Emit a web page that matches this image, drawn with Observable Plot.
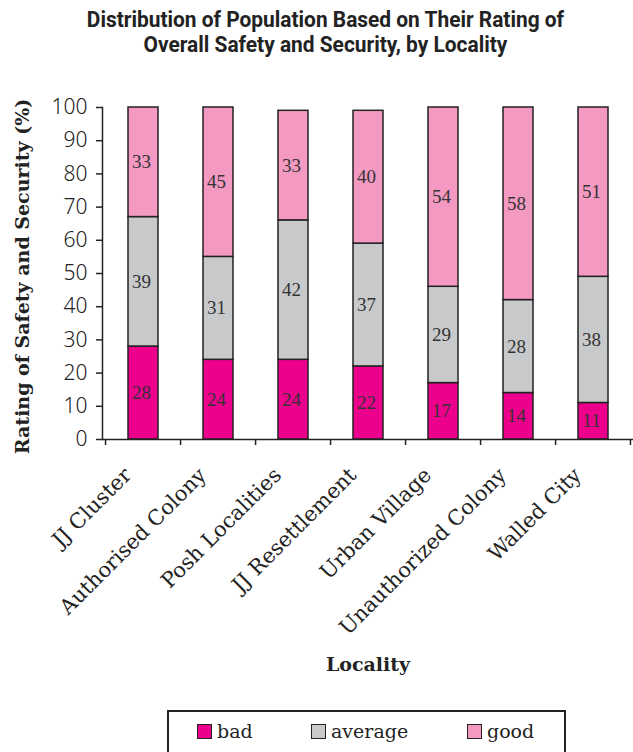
<!DOCTYPE html>
<html><head><meta charset="utf-8">
<script src="https://cdn.jsdelivr.net/npm/d3@7"></script>
<script src="https://cdn.jsdelivr.net/npm/@observablehq/plot@0.6"></script>
<style>
body{margin:0;background:#fff;width:633px;height:752px;overflow:hidden;position:relative;}
#title{position:absolute;left:9px;top:0;width:633px;height:70px;font-family:Roboto,sans-serif;font-weight:700;font-size:22px;color:#222;}
#title .ln{position:absolute;left:0;width:633px;text-align:center;transform:scaleX(0.95);transform-origin:316px 0;line-height:24px;}
#chart{position:absolute;left:0;top:70px;}
#legend{position:absolute;left:167px;top:710px;width:395px;height:60px;border:2px solid #222;font-family:"DejaVu Serif",serif;font-size:19px;color:#222;}
#legend .it{position:absolute;top:8px;display:flex;align-items:center;}
#legend .sw{width:13px;height:13px;border:1.5px solid #222;margin-right:5px;}
</style></head><body>
<div id="title"><div class="ln" style="top:8px">Distribution of Population Based on Their Rating of</div><div class="ln" style="top:33px">Overall Safety and Security, by Locality</div></div>
<div id="chart"></div>
<div id="legend"></div>
<script>
const localities = ["JJ Cluster","Authorised Colony","Posh Localities","JJ Resettlement","Urban Village","Unauthorized Colony","Walled City"];
const bad = [28,24,24,22,17,14,11];
const average = [39,31,42,37,29,28,38];
const good = [33,45,33,40,54,58,51];
const ratings = ["bad","average","good"];
const colors = ["#ec008c","#c8c9cb","#f49ac2"];
const yTicks = [0,10,20,30,40,50,60,70,80,90,100];
const yTitle = "Rating of Safety and Security (%)";
const xTitle = "Locality";

const series = {bad, average, good};
const data = [];
localities.forEach((loc, i) => ratings.forEach(r => data.push({loc, rating: r, value: series[r][i]})));

const W = 633, H = 630, mL = 102, mR = 0, mT = 37, mB = 261;
const step = (W - mL - mR) / localities.length;

const chart = Plot.plot({
  width: W, height: H,
  marginLeft: mL, marginRight: mR, marginTop: mT, marginBottom: mB,
  style: {fontFamily: "'Noto Sans', sans-serif", background: "#fff", color: "#222"},
  x: {domain: localities, paddingInner: 0.6, paddingOuter: 0.3, axis: null},
  y: {domain: [0, 100], axis: null},
  color: {domain: ratings, range: colors},
  marks: [
    Plot.barY(data, {x: "loc", y: "value", fill: "rating", stroke: "#222", strokeWidth: 1.5}),
    Plot.text(data, Plot.stackY({x: "loc", y: "value", z: "rating", text: "value", fill: "#333", fontFamily: "'Liberation Serif', serif", fontSize: 19, dx: -2})),
    Plot.frame({anchor: "left", stroke: "#222", strokeWidth: 1.5}),
    Plot.ruleY([0], {stroke: "#222", strokeWidth: 1.5}),
    Plot.ruleX(localities, {x: d => d, y1: 0, y2: 0, insetBottom: -6, dx: -step / 2, stroke: "#222", strokeWidth: 1.5}),
    Plot.ruleX(localities.slice(-1), {x: d => d, y1: 0, y2: 0, insetBottom: -6, dx: step / 2 - 1, stroke: "#222", strokeWidth: 1.5}),
    Plot.axisY({ticks: yTicks, tickSize: 6, tickPadding: 9, fontSize: 21, fontWeight: 300, label: null, stroke: "#222", strokeWidth: 1.5, fill: "#222"}),
    Plot.text(localities, {x: d => d, text: d => d, frameAnchor: "bottom", dy: 37, dx: -11, rotate: -45, textAnchor: "end", fontFamily: "'DejaVu Serif', serif", fontSize: 21, fill: "#222"}),
    Plot.text([yTitle], {text: d => d, frameAnchor: "left", textAnchor: "middle", rotate: -90, dx: -80, dy: 3, fontFamily: "'DejaVu Serif', serif", fontWeight: "bold", fontSize: 19, fill: "#222"}),
    Plot.text([xTitle], {text: d => d, frameAnchor: "bottom", dy: 231, fontFamily: "'DejaVu Serif', serif", fontWeight: "bold", fontSize: 19, fill: "#222"})
  ]
});
document.getElementById("chart").appendChild(chart);

const lx = [28, 142, 298];
const legend = document.getElementById("legend");
ratings.forEach((r, i) => {
  const it = document.createElement("div");
  it.className = "it";
  it.style.left = lx[i] + "px";
  const sw = document.createElement("div");
  sw.className = "sw";
  sw.style.background = colors[i];
  const tx = document.createElement("span");
  tx.textContent = r;
  it.appendChild(sw); it.appendChild(tx);
  legend.appendChild(it);
});
</script>
</body></html>
